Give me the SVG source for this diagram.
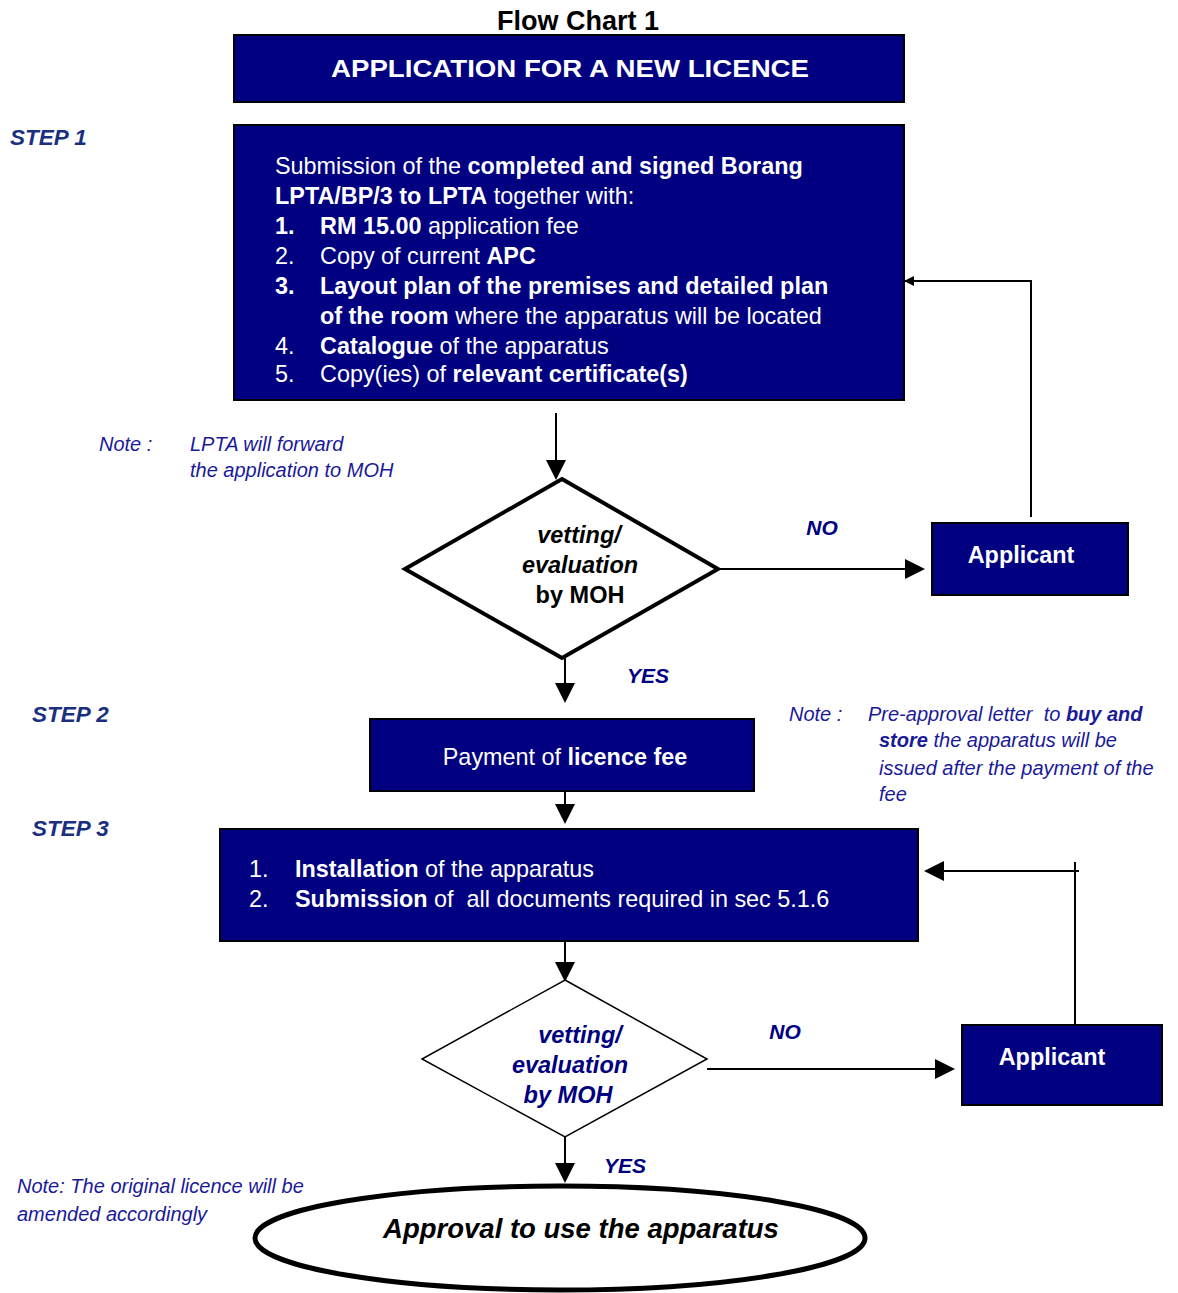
<svg xmlns="http://www.w3.org/2000/svg" width="1178" height="1293" viewBox="0 0 1178 1293">
<defs>
<style>
.box{fill:#000080;stroke:#000;stroke-width:2}
.wt{fill:#fff;font-family:"Liberation Sans",Arial,sans-serif;font-size:23.4px}
.b{font-weight:bold}
.ln{stroke:#000;stroke-width:2;fill:none}
.step{fill:#1a2f80;font-family:"Liberation Sans",Arial,sans-serif;font-size:22.5px;font-weight:bold;font-style:italic}
.note{fill:#1a1a99;font-family:"Liberation Sans",Arial,sans-serif;font-size:20px;font-style:italic}
.lbl{fill:#000080;font-family:"Liberation Sans",Arial,sans-serif;font-size:21px;font-weight:bold;font-style:italic}
.dt{font-family:"Liberation Sans",Arial,sans-serif;font-size:23.5px;font-weight:bold}
.pre{white-space:pre}
</style>
<marker id="ah" markerWidth="10" markerHeight="10" refX="9" refY="5" orient="auto" markerUnits="userSpaceOnUse" viewBox="0 0 10 10">
<path d="M0,0 L10,5 L0,10 Z" fill="#000"/>
</marker>
<marker id="ahb" markerWidth="20" markerHeight="20" refX="18" refY="10" orient="auto" markerUnits="userSpaceOnUse" viewBox="0 0 20 20">
<path d="M0,0 L20,10 L0,20 Z" fill="#000"/>
</marker>
</defs>
<rect width="1178" height="1293" fill="#fff"/>

<text x="578" y="30" text-anchor="middle" font-family="Liberation Sans Narrow,Liberation Sans,Arial,sans-serif" font-size="27" font-weight="bold" fill="#000">Flow Chart 1</text>

<g id="connectors">
<line class="ln" x1="556" y1="413" x2="556" y2="478" marker-end="url(#ahb)"/>
<line class="ln" x1="718" y1="569" x2="923" y2="569" marker-end="url(#ahb)"/>
<polyline class="ln" points="1031,517 1031,281 905,281" marker-end="url(#ah)"/>
<line class="ln" x1="565" y1="658" x2="565" y2="701" marker-end="url(#ahb)"/>
<line class="ln" x1="565" y1="791" x2="565" y2="822" marker-end="url(#ahb)"/>
<line class="ln" x1="565" y1="941" x2="565" y2="980" marker-end="url(#ahb)"/>
<line class="ln" x1="1075" y1="862" x2="1075" y2="1025"/>
<line class="ln" x1="1079" y1="871" x2="926" y2="871" marker-end="url(#ahb)"/>
<line class="ln" x1="707" y1="1069" x2="953" y2="1069" marker-end="url(#ahb)"/>
<line class="ln" x1="565" y1="1137" x2="565" y2="1181" marker-end="url(#ahb)"/>
<text class="lbl" x="822" y="535" text-anchor="middle">NO</text>
<text class="lbl" x="648" y="683" text-anchor="middle">YES</text>
<text class="lbl" x="785" y="1039" text-anchor="middle">NO</text>
<text class="lbl" x="625" y="1173" text-anchor="middle">YES</text>
</g>

<g id="header">
<rect class="box" x="234" y="35" width="670" height="67"/>
<text class="wt b" x="331" y="77" font-size="26" textLength="478" lengthAdjust="spacingAndGlyphs">APPLICATION FOR A NEW LICENCE</text>
</g>

<g id="step1-box">
<rect class="box" x="234" y="125" width="670" height="275"/>
<text class="wt" x="275" y="174" font-size="23.7">Submission of the <tspan class="b">completed and signed Borang</tspan></text>
<text class="wt" x="275" y="204" font-size="23.7"><tspan class="b">LPTA/BP/3 to LPTA</tspan> together with:</text>
<text class="wt b" x="275" y="234">1.</text><text class="wt" x="320" y="234"><tspan class="b">RM 15.00</tspan> application fee</text>
<text class="wt" x="275" y="264">2.</text><text class="wt" x="320" y="264">Copy of current <tspan class="b">APC</tspan></text>
<text class="wt b" x="275" y="294">3.</text><text class="wt b" x="320" y="294">Layout plan of the premises and detailed plan</text>
<text class="wt" x="320" y="324"><tspan class="b">of the room</tspan> where the apparatus will be located</text>
<text class="wt" x="275" y="354">4.</text><text class="wt" x="320" y="354"><tspan class="b">Catalogue</tspan> of the apparatus</text>
<text class="wt" x="275" y="382">5.</text><text class="wt" x="320" y="382">Copy(ies) of <tspan class="b">relevant certificate(s)</tspan></text>
</g>

<g id="decision1">
<polygon points="562,479 718,569 562,658 405,569" fill="#fff" stroke="#000" stroke-width="4"/>
<text class="dt" x="579" y="543" text-anchor="middle" font-style="italic" fill="#000">vetting/</text>
<text class="dt" x="580" y="573" text-anchor="middle" font-style="italic" fill="#000">evaluation</text>
<text class="dt" x="580" y="603" text-anchor="middle" fill="#000">by MOH</text>
</g>

<g id="applicant1">
<rect class="box" x="932" y="523" width="196" height="72"/>
<text class="wt b" x="1021" y="563" text-anchor="middle">Applicant</text>
</g>

<g id="step2-box">
<rect class="box" x="370" y="719" width="384" height="72"/>
<text class="wt" x="565" y="765" text-anchor="middle">Payment of <tspan class="b">licence fee</tspan></text>
</g>

<g id="step3-box">
<rect class="box" x="220" y="829" width="698" height="112"/>
<text class="wt" x="249" y="877">1.</text><text class="wt" x="295" y="877"><tspan class="b">Installation</tspan> of the apparatus</text>
<text class="wt" x="249" y="907">2.</text><text class="wt pre" x="295" y="907"><tspan class="b">Submission</tspan> of  all documents required in sec 5.1.6</text>
</g>

<g id="decision2">
<polygon points="565,980 707,1059 565,1137 422,1059" fill="#fff" stroke="#000" stroke-width="1.5"/>
<text class="dt" x="580" y="1043" text-anchor="middle" font-size="24" font-style="italic" fill="#000080">vetting/</text>
<text class="dt" x="570" y="1073" text-anchor="middle" font-size="24" font-style="italic" fill="#000080">evaluation</text>
<text class="dt" x="568" y="1103" text-anchor="middle" font-size="24" font-style="italic" fill="#000080">by MOH</text>
</g>

<g id="applicant2">
<rect class="box" x="962" y="1025" width="200" height="80"/>
<text class="wt b" x="1052" y="1065" text-anchor="middle">Applicant</text>
</g>

<g id="approval">
<ellipse cx="560" cy="1238" rx="305" ry="52" fill="#fff" stroke="#000" stroke-width="5"/>
<text x="581" y="1238" text-anchor="middle" font-family="Liberation Sans,Arial,sans-serif" font-size="27.5" font-weight="bold" font-style="italic" fill="#000">Approval to use the apparatus</text>
</g>

<g id="labels">
<text class="step" x="10" y="145">STEP 1</text>
<text class="step" x="32" y="722">STEP 2</text>
<text class="step" x="32" y="836">STEP 3</text>
<text class="note" x="99" y="451">Note :</text>
<text class="note" x="190" y="451">LPTA will forward</text>
<text class="note" x="190" y="477">the application to MOH</text>
<text class="note" x="789" y="721">Note :</text>
<text class="note pre" x="868" y="721" font-size="21">Pre-approval letter  to <tspan font-weight="bold">buy and</tspan></text>
<text class="note" x="879" y="747" font-size="21"><tspan font-weight="bold">store</tspan> the apparatus will be</text>
<text class="note" x="879" y="775" font-size="21">issued after the payment of the</text>
<text class="note" x="879" y="801" font-size="21">fee</text>
<text class="note" x="17" y="1193">Note: The original licence will be</text>
<text class="note" x="17" y="1221">amended accordingly</text>
</g>
</svg>
